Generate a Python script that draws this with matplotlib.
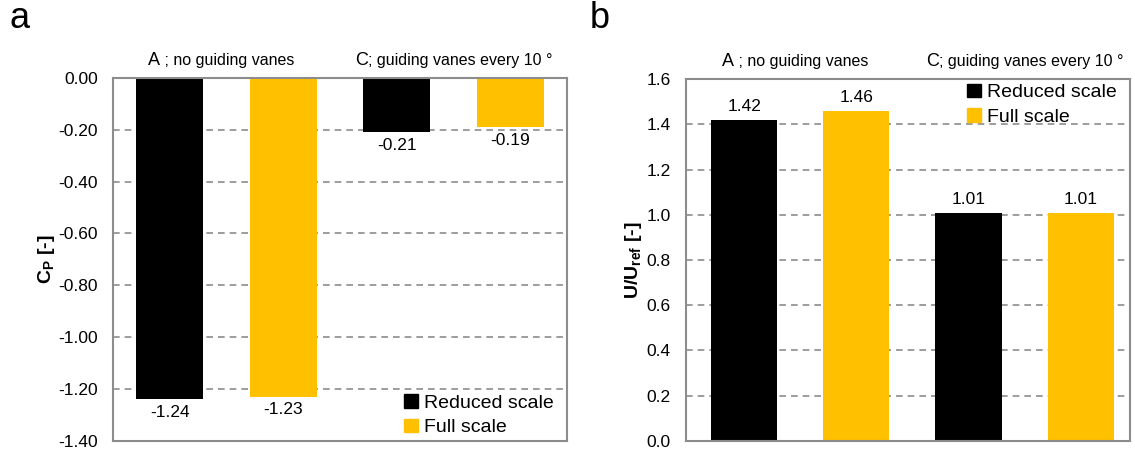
import matplotlib.pyplot as plt
import numpy as np
from matplotlib.patches import Patch
from matplotlib.offsetbox import TextArea, HPacker, AnnotationBbox

plt.rcParams["font.family"] = ["Liberation Sans", "DejaVu Sans"]

# data
bar_labels = ["A; reduced", "A; full", "C; reduced", "C; full"]
cp_values = [-1.24, -1.23, -0.21, -0.19]
u_values = [1.42, 1.46, 1.01, 1.01]
group_letters = ["A", "C"]
group_titles = [" ; no guiding vanes", "; guiding vanes every 10 °"]
series_names = ["Reduced scale", "Full scale"]
series_colors = ["#000000", "#FFC000"]

grey = "#8c8c8c"
x = np.arange(len(bar_labels))
colors = [series_colors[i % 2] for i in range(len(bar_labels))]
title_shift = [-0.05, 0.0]

fig = plt.figure(figsize=(11.35, 4.55), dpi=100)
ax_a = fig.add_axes([0.0996, 0.031, 0.4, 0.798])
ax_b = fig.add_axes([0.6044, 0.031, 0.3912, 0.795])


def style_axes(ax, ylim, yticks, fmt, xlim):
    ax.set_ylim(*ylim)
    ax.set_yticks(yticks)
    labels = [fmt % t for t in yticks]
    labels = [l.replace("-0.00", "0.00") for l in labels]
    ax.set_yticklabels(labels, fontsize=12.5)
    ax.set_xticks([])
    ax.set_xlim(*xlim)
    for t in yticks:
        ax.axhline(t, color=grey, linestyle=(0, (4, 3)), linewidth=1.2, zorder=0)
    for sp in ax.spines.values():
        sp.set_color(grey)
        sp.set_linewidth(1.5)
    ax.tick_params(axis="y", length=0, pad=11)
    # group titles above the plot, big letter + smaller description
    for g, (letter, title) in enumerate(zip(group_letters, group_titles)):
        xc = 2 * g + 0.5 + title_shift[g]
        box = HPacker(children=[TextArea(letter, textprops=dict(fontsize=13)),
                                TextArea(title, textprops=dict(fontsize=11.5))],
                      align="baseline", pad=0, sep=0)
        ab = AnnotationBbox(box, (xc, 1.025), xycoords=ax.get_xaxis_transform(),
                            box_alignment=(0.5, 0.0), frameon=False,
                            annotation_clip=False)
        ax.add_artist(ab)


# panel a
bars_a = ax_a.bar(x, cp_values, width=0.59, color=colors, zorder=2)
style_axes(ax_a, (-1.40, 0.0), np.arange(-1.4, 0.01, 0.2), "%.2f", (-0.5, 3.5))
ax_a.bar_label(bars_a, fmt="%.2f", padding=4, fontsize=12.5)
ax_a.set_ylabel("C$_\\mathregular{P}$ [-]", fontsize=14, fontweight="bold", labelpad=1)

# panel b
bars_b = ax_b.bar(x, u_values, width=0.59, color=colors, zorder=2)
style_axes(ax_b, (0.0, 1.6), np.arange(0.0, 1.61, 0.2), "%.1f", (-0.52, 3.44))
ax_b.bar_label(bars_b, fmt="%.2f", padding=4, fontsize=12.5)
ax_b.set_ylabel("U/U$_\\mathregular{ref}$ [-]", fontsize=14, fontweight="bold", labelpad=2)

handles = [Patch(facecolor=c, edgecolor=c, label=n) for c, n in zip(series_colors, series_names)]
ax_a.legend(handles=handles, loc="lower right", bbox_to_anchor=(1.0, -0.025),
            frameon=False, fontsize=14, handlelength=0.7, handleheight=0.7,
            handletextpad=0.3, labelspacing=0.35, borderaxespad=0.3)
ax_b.legend(handles=handles, loc="upper right", bbox_to_anchor=(1.0, 1.025),
            frameon=False, fontsize=14, handlelength=0.7, handleheight=0.7,
            handletextpad=0.3, labelspacing=0.35, borderaxespad=0.3)

fig.text(0.008, 0.92, "a", fontsize=26, va="bottom")
fig.text(0.52, 0.92, "b", fontsize=26, va="bottom")

fig.savefig("out.png", dpi=100)
